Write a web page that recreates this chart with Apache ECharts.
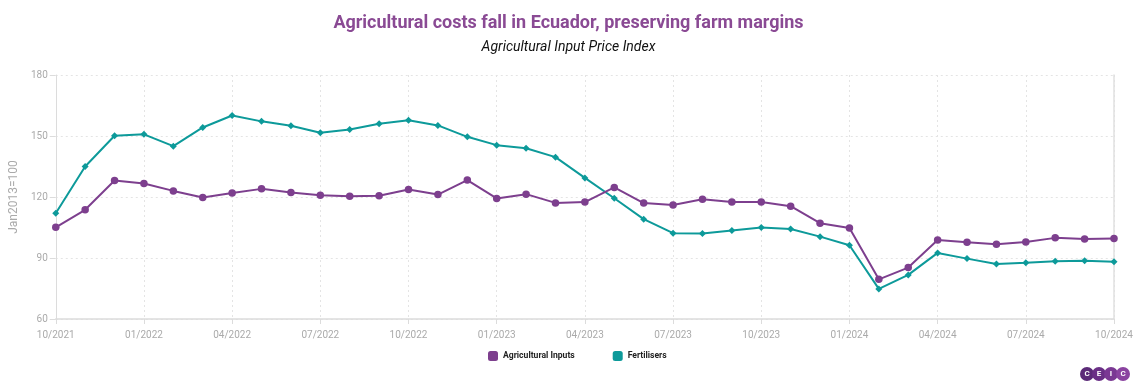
<!DOCTYPE html>
<html>
<head>
<meta charset="utf-8">
<script src="https://cdn.jsdelivr.net/npm/echarts@6/dist/echarts.min.js"></script>
<style>
html,body{margin:0;padding:0;background:#fff;}
#chart{width:1137px;height:389px;}
</style>
</head>
<body>
<div id="chart"></div>
<script>
const categories = ['10/2021','11/2021','12/2021','01/2022','02/2022','03/2022','04/2022','05/2022','06/2022','07/2022','08/2022','09/2022',
  '10/2022','11/2022','12/2022','01/2023','02/2023','03/2023','04/2023','05/2023','06/2023','07/2023','08/2023','09/2023',
  '10/2023','11/2023','12/2023','01/2024','02/2024','03/2024','04/2024','05/2024','06/2024','07/2024','08/2024','09/2024','10/2024'];
const agriculturalInputs = [105.1,113.7,128.1,126.6,123.0,119.8,122.0,124.0,122.2,120.9,120.4,120.6,
  123.7,121.2,128.3,119.3,121.4,117.1,117.5,124.7,117.0,116.1,118.9,117.5,
  117.5,115.5,107.1,104.8,79.5,85.3,98.9,97.8,96.8,97.9,99.9,99.4,99.6];
const fertilisers = [112.0,135.0,150.1,150.8,145.0,154.2,160.1,157.2,155.0,151.6,153.2,156.0,
  157.7,155.2,149.6,145.5,144.0,139.6,129.4,119.4,109.1,102.2,102.0,103.5,
  105.0,104.3,100.5,96.3,74.8,81.7,92.5,89.7,87.1,87.7,88.4,88.6,88.2];
const yTicks = {min: 60, max: 180, interval: 30};

const purple = '#7d3f8e';
const teal = '#0d9a9a';
const chart = echarts.init(document.getElementById('chart'));
const font = 'Roboto';
chart.setOption({
  animation: false,
  textStyle: {fontFamily: font},
  title: [{
    text: 'Agricultural costs fall in Ecuador, preserving farm margins',
    left: 'center', top: 9,
    textStyle: {color: '#8a4a94', fontSize: 18, fontWeight: 'bold', fontFamily: font}
  },{
    text: 'Agricultural Input Price Index',
    left: 'center', top: 35,
    textStyle: {color: '#111', fontSize: 14, fontStyle: 'italic', fontWeight: 'normal', fontFamily: font}
  }],
  legend: {
    bottom: 23, left: 483,
    itemWidth: 10, itemHeight: 10, itemGap: 38,
    icon: 'roundRect',
    textStyle: {color: '#222', fontSize: 8.6, fontWeight: 'bold', fontFamily: font, padding: [0,0,0,0]},
    data: [{name:'Agricultural Inputs', itemStyle:{color: purple}}, {name:'Fertilisers', itemStyle:{color: teal}}]
  },
  grid: {left: 54, right: 23, top: 75, bottom: 70},
  xAxis: {
    type: 'category', data: categories, boundaryGap: false,
    axisLine: {lineStyle: {color: '#dcdcdc', width: 1.5}},
    axisTick: {show: true, interval: 2, length: 5, lineStyle: {color: '#dcdcdc'}},
    axisLabel: {interval: 2, color: '#aaa', fontSize: 10, margin: 11},
    splitLine: {show: true, interval: 2, lineStyle: {color: '#e4e4e4', type: [2,3]}}
  },
  yAxis: [{
    type: 'value', min: yTicks.min, max: yTicks.max, interval: yTicks.interval,
    name: 'Jan2013=100', nameLocation: 'middle', nameGap: 29, nameRotate: 90,
    nameTextStyle: {color: '#aaa', fontSize: 12},
    axisLine: {show: true, lineStyle: {color: '#dcdcdc'}},
    axisTick: {show: true, length: 6, lineStyle: {color: '#dcdcdc'}},
    axisLabel: {color: '#aaa', fontSize: 10, margin: 8},
    splitLine: {show: true, lineStyle: {color: '#e4e4e4', type: [2,3]}}
  },{
    type: 'value', min: yTicks.min, max: yTicks.max, interval: yTicks.interval, position: 'right',
    axisLine: {show: true, lineStyle: {color: '#e0e0e0', width: 1.5}},
    axisTick: {show: false}, axisLabel: {show: false}, splitLine: {show: false}
  }],
  series: [{
    name: 'Agricultural Inputs', type: 'line', data: agriculturalInputs,
    symbol: 'circle', symbolSize: 7.5,
    lineStyle: {color: purple, width: 2}, itemStyle: {color: purple}, z: 3
  },{
    name: 'Fertilisers', type: 'line', data: fertilisers,
    symbol: 'diamond', symbolSize: 7,
    lineStyle: {color: teal, width: 2}, itemStyle: {color: teal}, z: 2
  }],
  graphic: [{
    type: 'group', right: 7, bottom: 8,
    children: ['C','E','I','C'].map((ch, i) => ({
      type: 'group', x: i * 12,
      children: [
        {type: 'circle', shape: {cx: 7, cy: 7, r: 7}, style: {fill: ['#5b2a78','#6a2f86','#7a3893','#8a43a0'][i]}},
        {type: 'text', style: {text: ch, x: 7, y: 7, align: 'center', verticalAlign: 'middle', fill: '#fff', font: 'bold 8px Roboto'}}
      ]
    }))
  }]
});
</script>
</body>
</html>
